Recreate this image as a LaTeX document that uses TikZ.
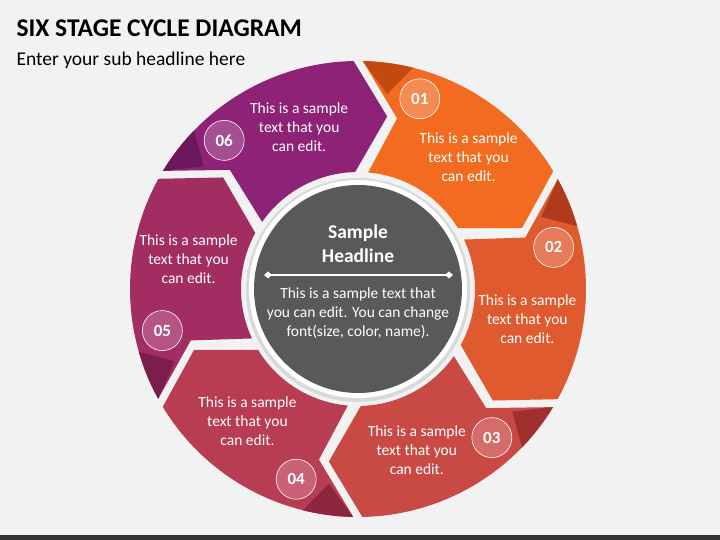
\documentclass[tikz,border=0pt]{standalone}
\usepackage{fontspec}
\setmainfont{Carlito}
\definecolor{bgcol}{HTML}{F2F2F2}
\definecolor{segA}{HTML}{F26B21}\definecolor{darkA}{HTML}{C2490F}\definecolor{liteA}{HTML}{F48B55}
\definecolor{segB}{HTML}{DF5A2E}\definecolor{darkB}{HTML}{B03A1C}\definecolor{liteB}{HTML}{E57B5B}
\definecolor{segC}{HTML}{C94A45}\definecolor{darkC}{HTML}{A0302E}\definecolor{liteC}{HTML}{D46D69}
\definecolor{segD}{HTML}{B83C52}\definecolor{darkD}{HTML}{8E2640}\definecolor{liteD}{HTML}{C96276}
\definecolor{segE}{HTML}{A22D62}\definecolor{darkE}{HTML}{7B1E4C}\definecolor{liteE}{HTML}{B65585}
\definecolor{segF}{HTML}{8E2277}\definecolor{darkF}{HTML}{6C185B}\definecolor{liteF}{HTML}{A54E92}
\definecolor{hubgray}{HTML}{595959}
\begin{document}
\begin{tikzpicture}[x=1pt,y=1pt,
  numdot/.style={circle, draw=white, line width=0.6pt, minimum size=40pt, inner sep=0pt,
    text=white, font=\fontsize{17}{17}\selectfont\bfseries},
  segtext/.style={align=center, text=white, font=\fontsize{15.5}{19}\selectfont},
  hubtext/.style={align=center, text=white, font=\fontsize{15.5}{19}\selectfont}]
% background
\fill[bgcol] (0,0) rectangle (720,540);
\fill[black!80] (0,0) rectangle (720,5);
\node[anchor=west, font=\fontsize{25.5}{25.5}\selectfont\bfseries] (title) at (13,512) {SIX STAGE CYCLE DIAGRAM};
\node[anchor=west, font=\fontsize{19.5}{19.5}\selectfont] (sub) at (13,480) {Enter your sub headline here};

\begin{scope}[shift={(358,251)}]
%six arrow segments
\foreach \i/\ang/\col in {1/60/A,2/0/B,3/-60/C,4/-120/D,5/180/E,6/120/F}{
  \fill[seg\col] (\ang+28.8:228) arc[start angle=\ang+28.8, end angle=\ang-28.9, radius=228]
    -- (\ang-39.6:175) -- (\ang-28.6:117)
    arc[start angle=\ang-28.6, end angle=\ang+25, radius=117]
    -- (\ang+17.1:175) -- cycle;
  \fill[dark\col] (\ang+28.8:228) arc[start angle=\ang+28.8, end angle=\ang+16, radius=228]
    -- (\ang+21.5:197) -- cycle;
  \node[numdot, fill=lite\col] (n\i) at (\ang+12:200) {0\i};
  \node[segtext] (t\i) at (\ang-10:172) {This is a sample\\text that you\\can edit.};
}
%hub
\fill[black!15] (0,-1) circle (112);
\fill[white] (0,0) circle (109);
\fill[hubgray] (0,0) circle (104);
\node[hubtext, font=\fontsize{19.5}{24}\selectfont\bfseries] (head) at (0,45) {Sample\\Headline};
\coordinate (ll) at (-90,14);
\coordinate (lr) at (91,14);
\draw[white, line width=1.2pt] (ll) -- (lr);
\fill[white] (ll) +(-4,0) -- +(0,3.5) -- +(4,0) -- +(0,-3.5) -- cycle;
\fill[white] (lr) +(-4,0) -- +(0,3.5) -- +(4,0) -- +(0,-3.5) -- cycle;
\node[hubtext] (body) at (0,-24) {This is a sample text that\\you can edit. You can change\\font(size, color, name).};
\end{scope}
\end{tikzpicture}
\end{document}
